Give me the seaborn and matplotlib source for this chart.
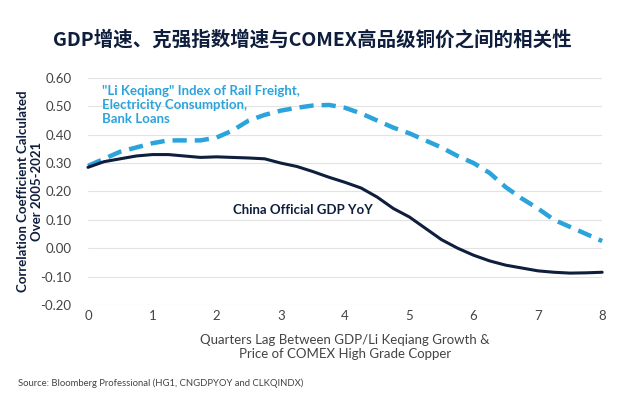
import numpy as np
import pandas as pd
import matplotlib
matplotlib.use("Agg")
import matplotlib.pyplot as plt
import seaborn as sns

# quarters lag (x) and correlation values
lag = [0, 0.25, 0.5, 0.75, 1, 1.25, 1.5, 1.75, 2, 2.25, 2.5, 2.75, 3, 3.25, 3.5, 3.75,
       4, 4.25, 4.5, 4.75, 5, 5.25, 5.5, 5.75, 6, 6.25, 6.5, 6.75, 7, 7.25, 7.5, 7.75, 8]
li_keqiang = [0.29, 0.315, 0.34, 0.355, 0.37, 0.38, 0.38, 0.38, 0.39, 0.415, 0.45, 0.47,
              0.485, 0.495, 0.503, 0.505, 0.495, 0.475, 0.45, 0.425, 0.405, 0.38, 0.355,
              0.325, 0.30, 0.265, 0.215, 0.175, 0.14, 0.10, 0.075, 0.05, 0.025]
gdp_yoy = [0.285, 0.305, 0.315, 0.325, 0.33, 0.33, 0.325, 0.32, 0.322, 0.32, 0.318, 0.315,
           0.30, 0.288, 0.27, 0.25, 0.232, 0.212, 0.18, 0.14, 0.11, 0.07, 0.03, 0.0,
           -0.025, -0.045, -0.06, -0.07, -0.08, -0.085, -0.088, -0.087, -0.085]
yticks = [-0.2, -0.1, 0.0, 0.1, 0.2, 0.3, 0.4, 0.5, 0.6]
xticks = [0, 1, 2, 3, 4, 5, 6, 7, 8]

df = pd.DataFrame({"lag": lag, "li": li_keqiang, "gdp": gdp_yoy})

NAVY = "#0f1e3d"
BLUE = "#2ba3dc"
GRAY = "#444444"

sns.set_style("white")
plt.rcParams["font.family"] = ["Lato", "DejaVu Sans"]

fig = plt.figure(figsize=(6.24, 3.98), dpi=100)
ax = fig.add_axes([0.141, 0.234, 0.824, 0.570])

sns.lineplot(data=df, x="lag", y="li", ax=ax, color=BLUE, linewidth=3.2,
             linestyle=(0, (3.2, 1.8)), clip_on=False)
sns.lineplot(data=df, x="lag", y="gdp", ax=ax, color=NAVY, linewidth=2.2, clip_on=False)

ax.set_xlim(0, 8)
ax.set_ylim(-0.2, 0.6)
ax.set_xticks(xticks)
ax.set_yticks(yticks)
ax.set_yticklabels([f"{v:.2f}" for v in yticks])
ax.grid(axis="y", color="#e3e3e3", linewidth=0.8)
ax.grid(axis="x", visible=False)
ax.set_axisbelow(True)
sns.despine(ax=ax, left=True, bottom=True)
ax.tick_params(axis="both", length=0, labelsize=9.5, labelcolor=GRAY)
ax.tick_params(axis="x", pad=4)
ax.tick_params(axis="y", pad=12)

ax.set_xlabel("Quarters Lag Between GDP/Li Keqiang Growth &\nPrice of COMEX High Grade Copper",
              fontsize=9.5, color=GRAY, labelpad=8)
ax.set_ylabel("Correlation Coefficient Calculated\nOver 2005-2021",
              fontsize=9.5, color=NAVY, fontweight="bold")
ax.yaxis.set_label_coords(-0.088, 0.5)

ax.text(0.22, 0.575, "\"Li Keqiang\" Index of Rail Freight,\nElectricity Consumption,\nBank Loans",
        color=BLUE, fontsize=9.5, fontweight="bold", va="top", ha="left", linespacing=1.2)
ax.text(2.25, 0.135, "China Official GDP YoY", color=NAVY, fontsize=9.5,
        fontweight="bold", va="center", ha="left")

fig.text(0.5, 0.9, "GDP增速、克强指数增速与COMEX高品级铜价之间的相关性",
         ha="center", va="center", fontsize=14, color=NAVY, fontweight="bold",
         family=["Noto Sans CJK SC", "DejaVu Sans"])
fig.text(0.029, 0.038, "Source: Bloomberg Professional (HG1, CNGDPYOY and CLKQINDX)",
         ha="left", va="center", fontsize=6.8, color=GRAY)

fig.savefig("out.png", dpi=100)
